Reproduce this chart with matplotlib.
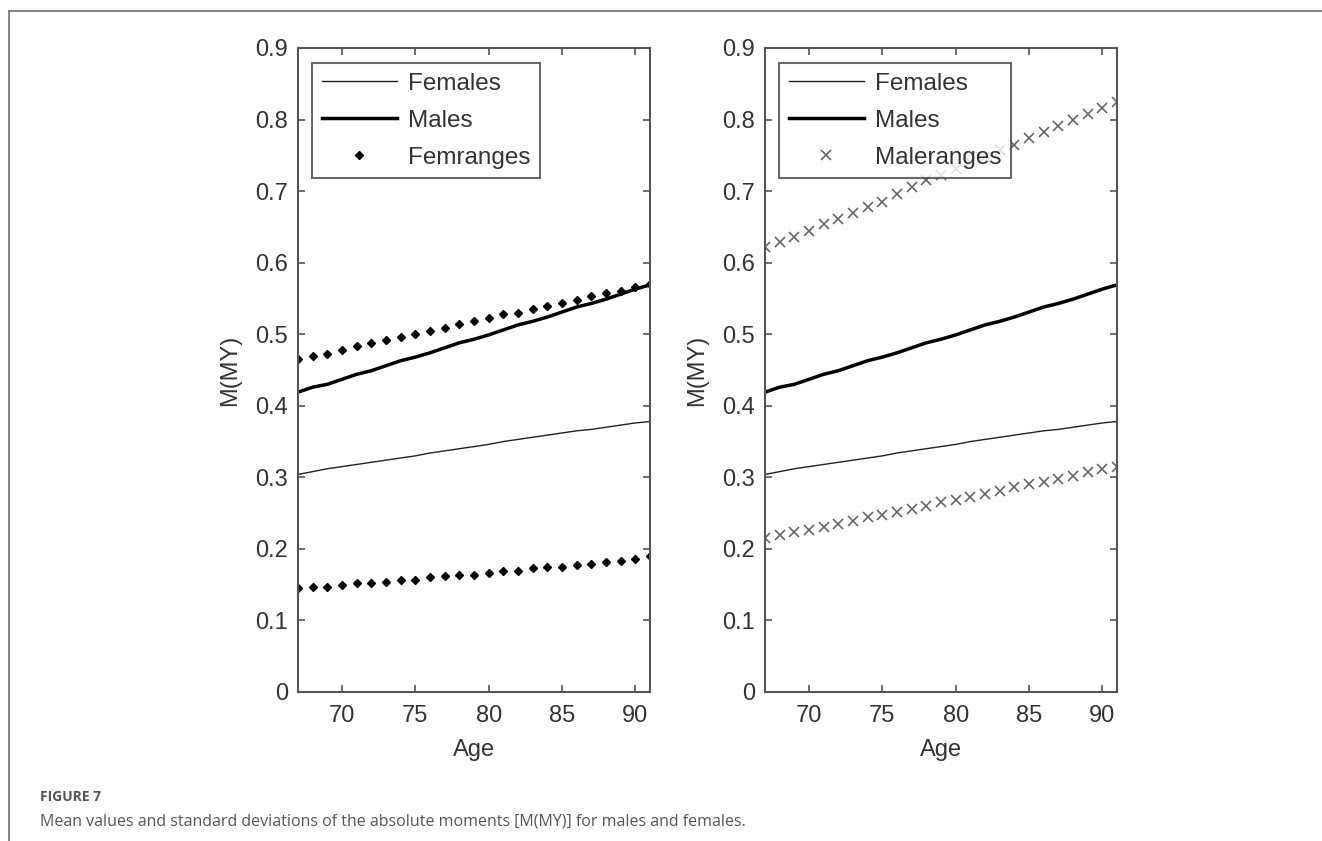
import matplotlib
matplotlib.use('Agg')
import matplotlib.pyplot as plt
from matplotlib.lines import Line2D

# ages 67..91
age = list(range(67, 92))

females = [0.304, 0.308, 0.312, 0.315, 0.318, 0.321, 0.324, 0.327, 0.330, 0.334,
           0.337, 0.340, 0.343, 0.346, 0.350, 0.353, 0.356, 0.359, 0.362, 0.365,
           0.367, 0.370, 0.373, 0.376, 0.378]
males = [0.419, 0.426, 0.430, 0.437, 0.444, 0.449, 0.456, 0.463, 0.468, 0.474,
         0.481, 0.488, 0.493, 0.499, 0.506, 0.513, 0.518, 0.524, 0.531, 0.538,
         0.543, 0.549, 0.556, 0.563, 0.569]

fem_upper = [0.465, 0.469, 0.473, 0.478, 0.483, 0.488, 0.492, 0.496, 0.501, 0.504,
             0.509, 0.514, 0.518, 0.522, 0.528, 0.530, 0.535, 0.540, 0.544, 0.548,
             0.553, 0.557, 0.561, 0.566, 0.570]
fem_lower = [0.145, 0.147, 0.147, 0.149, 0.152, 0.152, 0.154, 0.156, 0.156, 0.161,
             0.162, 0.163, 0.163, 0.167, 0.169, 0.169, 0.173, 0.175, 0.175, 0.177,
             0.179, 0.181, 0.183, 0.186, 0.190]

male_upper = [0.622, 0.629, 0.636, 0.644, 0.654, 0.661, 0.669, 0.678, 0.685, 0.696,
              0.706, 0.715, 0.723, 0.731, 0.740, 0.748, 0.757, 0.765, 0.774, 0.782,
              0.791, 0.799, 0.808, 0.816, 0.825]
male_lower = [0.215, 0.219, 0.223, 0.227, 0.231, 0.235, 0.239, 0.244, 0.248, 0.252,
              0.256, 0.260, 0.265, 0.269, 0.273, 0.277, 0.281, 0.286, 0.290, 0.294,
              0.298, 0.302, 0.307, 0.311, 0.315]

yticks = [0, 0.1, 0.2, 0.3, 0.4, 0.5, 0.6, 0.7, 0.8, 0.9]
ytick_labels = ['0', '0.1', '0.2', '0.3', '0.4', '0.5', '0.6', '0.7', '0.8', '0.9']
xticks = [70, 75, 80, 85, 90]

plt.rcParams['font.family'] = ['Liberation Sans', 'DejaVu Sans']

fig = plt.figure(figsize=(13.22, 8.41), dpi=100)

# page frame lines (top and left)
fig.add_artist(Line2D([9/1322, 1], [1 - 11/841, 1 - 11/841], color='#6b6e7e', lw=1.2))
fig.add_artist(Line2D([9/1322, 9/1322], [0, 1 - 11/841], color='#6b6e7e', lw=1.2))

ax1 = fig.add_axes([298/1322, 149/841, 352/1322, 644/841])
ax2 = fig.add_axes([765/1322, 149/841, 352/1322, 644/841])

txt_col = '#333333'


def style_axes(ax):
    ax.set_xlim(67, 91)
    ax.set_ylim(0, 0.9)
    ax.set_xticks(xticks)
    ax.set_yticks(yticks)
    ax.set_yticklabels(ytick_labels)
    ax.tick_params(direction='in', top=True, right=True, length=5, width=1.2,
                   colors='#555555', labelcolor=txt_col, labelsize=17)
    ax.tick_params(axis='x', pad=9)
    ax.tick_params(axis='y', pad=7)
    for s in ax.spines.values():
        s.set_color('#555555')
        s.set_linewidth(1.5)
    ax.set_xlabel('Age', fontsize=17, color=txt_col, labelpad=9)
    ax.set_ylabel('M(MY)', fontsize=17, color=txt_col, labelpad=10)


# left panel
ax1.plot(age, females, color='#222222', lw=1.0, label='Females')
ax1.plot(age, males, color='black', lw=2.5, label='Males')
ax1.plot(age, fem_upper, linestyle='none', marker='D', markersize=4.5,
         color='black', label='Femranges')
ax1.plot(age, fem_lower, linestyle='none', marker='D', markersize=4.5, color='black')
style_axes(ax1)

# right panel
ax2.plot(age, females, color='#222222', lw=1.0, label='Females')
ax2.plot(age, males, color='black', lw=2.5, label='Males')
ax2.plot(age, male_upper, linestyle='none', marker='x', markersize=7, mew=1.2,
         color='#666666', label='Maleranges')
ax2.plot(age, male_lower, linestyle='none', marker='x', markersize=7, mew=1.2,
         color='#666666')
style_axes(ax2)

for ax in (ax1, ax2):
    leg = ax.legend(loc='upper left', bbox_to_anchor=(0.04, 0.977), fontsize=17.5,
                    frameon=True, fancybox=False, handlelength=3.1, handletextpad=0.45,
                    labelspacing=0.62, borderpad=0.4, borderaxespad=0)
    leg.get_frame().set_edgecolor('#444444')
    leg.get_frame().set_linewidth(1.5)
    for t in leg.get_texts():
        t.set_color(txt_col)

# caption
fig.text(40/1322, 1 - 797/841, 'FIGURE 7', fontsize=10, fontweight='bold',
         color='#555555', family=['Open Sans', 'DejaVu Sans'], va='center')
fig.text(40/1322, 1 - 822/841,
         'Mean values and standard deviations of the absolute moments [M(MY)] for males and females.',
         fontsize=11.5, color='#555555', family=['Open Sans', 'DejaVu Sans'], va='center')

fig.savefig('out.png', dpi=100)
